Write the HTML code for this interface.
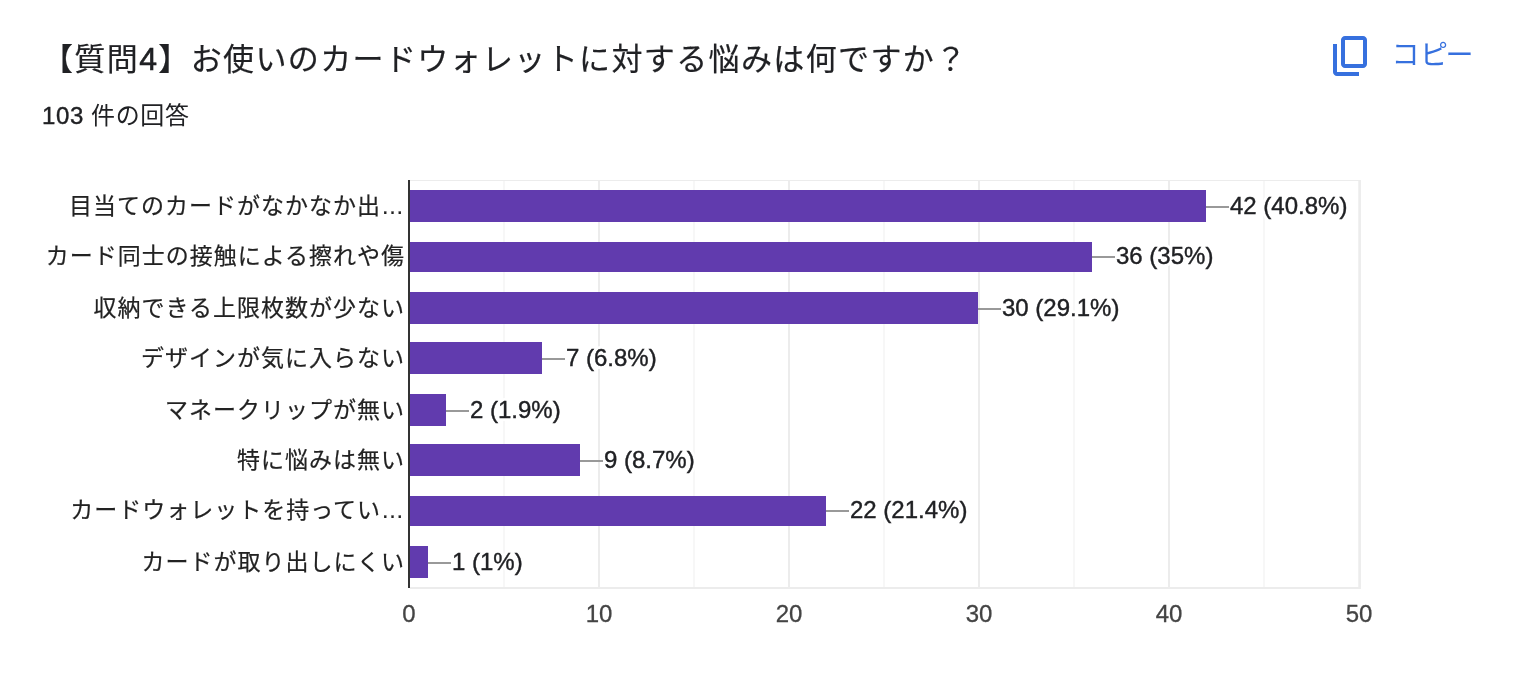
<!DOCTYPE html>
<html lang="ja"><head><meta charset="utf-8"><title>chart</title>
<style>
html,body{margin:0;padding:0;background:#fff;}
body{width:1520px;height:688px;position:relative;overflow:hidden;font-family:"Liberation Sans","Noto Sans CJK JP",sans-serif;}
.title{position:absolute;left:42px;top:35px;-webkit-text-stroke:.2px #202124;font-size:31px;line-height:48px;letter-spacing:1.37px;color:#202124;white-space:nowrap;}
.sub{position:absolute;left:42px;top:100px;font-size:24px;line-height:32px;letter-spacing:.6px;color:#202124;white-space:nowrap;}
.copy{position:absolute;left:1391.4px;top:36px;font-size:28px;line-height:40px;letter-spacing:-.9px;color:#3670de;white-space:nowrap;}
.icon{position:absolute;left:1327px;top:32px;width:48px;height:48px;}
svg.chart{position:absolute;left:0;top:0;}
svg text{font-family:"Liberation Sans","Noto Sans CJK JP",sans-serif;font-size:24px;}
.l{fill:#222;font-size:23px;letter-spacing:1px;stroke:#222;stroke-width:.2px;}
.h{fill:#fff;stroke:#fff;stroke-width:6px;stroke-linejoin:round;}
.v{fill:#202124;stroke:#202124;stroke-width:.4px;}
.a{fill:#444;stroke:#444;stroke-width:.3px;}
</style></head><body>
<div class="title">【質問<span style="font-size:32px;-webkit-text-stroke:.6px #202124">4</span>】お使いのカードウォレットに対する悩みは何ですか？</div>
<div class="sub"><span style="-webkit-text-stroke:.4px #202124">103</span> 件の回答</div>
<svg class="icon" viewBox="0 0 24 24"><path fill="#3670de" d="M9 18q-.825 0-1.412-.587Q7 16.825 7 16V4q0-.825.588-1.413Q8.175 2 9 2h9q.825 0 1.413.587Q20 3.175 20 4v12q0 .825-.587 1.413Q18.825 18 18 18Zm0-2h9V4H9v12Zm-4 6q-.825 0-1.412-.587Q3 20.825 3 20V6h2v14h11v2Z"/></svg>
<div class="copy">コ<span style="margin-left:1.5px;margin-right:-1.5px">ピ</span>ー</div>
<svg class="chart" width="1520" height="688" viewBox="0 0 1520 688">
<rect x="503.25" y="181" width="1.5" height="406" fill="#f5f5f5"/>
<rect x="693.25" y="181" width="1.5" height="406" fill="#f5f5f5"/>
<rect x="883.25" y="181" width="1.5" height="406" fill="#f5f5f5"/>
<rect x="1073.25" y="181" width="1.5" height="406" fill="#f5f5f5"/>
<rect x="1263.25" y="181" width="1.5" height="406" fill="#f5f5f5"/>
<rect x="598" y="181" width="2" height="406" fill="#ececec"/>
<rect x="788" y="181" width="2" height="406" fill="#ececec"/>
<rect x="978" y="181" width="2" height="406" fill="#ececec"/>
<rect x="1168" y="181" width="2" height="406" fill="#ececec"/>
<rect x="1358.3" y="180" width="2.6" height="409" fill="#ececec"/>
<rect x="410" y="180" width="950" height="1" fill="#ececec"/>
<rect x="410" y="587" width="950" height="2" fill="#ececec"/>
<rect x="410" y="190" width="796" height="32" fill="#613bae"/>
<text x="1230" y="214" class="h">42 (40.8%)</text>
<rect x="1206" y="206" width="23" height="2" fill="#999"/>
<text x="1230" y="214" class="v">42 (40.8%)</text>
<text x="405" y="214" class="l" text-anchor="end">目当てのカードがなかなか出…</text>
<rect x="410" y="242" width="682" height="30" fill="#613bae"/>
<text x="1116" y="264" class="h">36 (35%)</text>
<rect x="1092" y="256" width="23" height="2" fill="#999"/>
<text x="1116" y="264" class="v">36 (35%)</text>
<text x="405" y="264" class="l" text-anchor="end">カード同士の接触による擦れや傷</text>
<rect x="410" y="292" width="568" height="32" fill="#613bae"/>
<text x="1002" y="316" class="h">30 (29.1%)</text>
<rect x="978" y="308" width="23" height="2" fill="#999"/>
<text x="1002" y="316" class="v">30 (29.1%)</text>
<text x="405" y="316" class="l" text-anchor="end">収納できる上限枚数が少ない</text>
<rect x="410" y="342" width="132" height="32" fill="#613bae"/>
<text x="566" y="366" class="h">7 (6.8%)</text>
<rect x="542" y="358" width="23" height="2" fill="#999"/>
<text x="566" y="366" class="v">7 (6.8%)</text>
<text x="405" y="366" class="l" text-anchor="end">デザインが気に入らない</text>
<rect x="410" y="394" width="36" height="32" fill="#613bae"/>
<text x="470" y="418" class="h">2 (1.9%)</text>
<rect x="446" y="410" width="23" height="2" fill="#999"/>
<text x="470" y="418" class="v">2 (1.9%)</text>
<text x="405" y="418" class="l" text-anchor="end">マネークリップが無い</text>
<rect x="410" y="444" width="170" height="32" fill="#613bae"/>
<text x="604" y="468" class="h">9 (8.7%)</text>
<rect x="580" y="460" width="23" height="2" fill="#999"/>
<text x="604" y="468" class="v">9 (8.7%)</text>
<text x="405" y="468" class="l" text-anchor="end">特に悩みは無い</text>
<rect x="410" y="496" width="416" height="30" fill="#613bae"/>
<text x="850" y="518" class="h">22 (21.4%)</text>
<rect x="826" y="510" width="23" height="2" fill="#999"/>
<text x="850" y="518" class="v">22 (21.4%)</text>
<text x="405" y="518" class="l" text-anchor="end">カードウォレットを持ってい…</text>
<rect x="410" y="546" width="18" height="32" fill="#613bae"/>
<text x="452" y="570" class="h">1 (1%)</text>
<rect x="428" y="562" width="23" height="2" fill="#999"/>
<text x="452" y="570" class="v">1 (1%)</text>
<text x="405" y="570" class="l" text-anchor="end">カードが取り出しにくい</text>
<rect x="408" y="180" width="2" height="408" fill="#333"/>
<text x="409" y="622" class="a" text-anchor="middle">0</text>
<text x="599" y="622" class="a" text-anchor="middle">10</text>
<text x="789" y="622" class="a" text-anchor="middle">20</text>
<text x="979" y="622" class="a" text-anchor="middle">30</text>
<text x="1169" y="622" class="a" text-anchor="middle">40</text>
<text x="1359" y="622" class="a" text-anchor="middle">50</text>
</svg>
</body></html>
